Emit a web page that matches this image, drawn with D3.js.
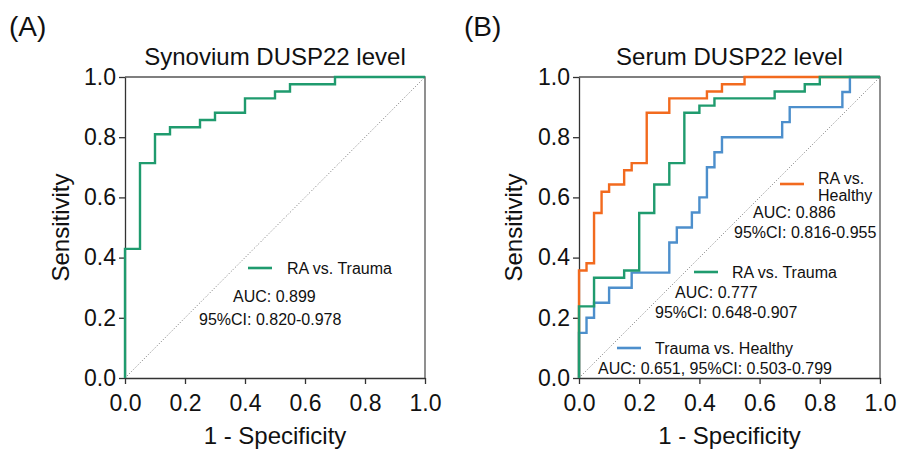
<!DOCTYPE html>
<html><head><meta charset="utf-8">
<script src="https://cdn.jsdelivr.net/npm/d3@7"></script>
<style>
body{margin:0;background:#fff;}
svg{display:block;font-family:"Liberation Sans",Arial,sans-serif;}
</style></head>
<body><svg id="c" width="898" height="450"></svg>
<script>
// ---- data ----
const ticks = [0, 0.2, 0.4, 0.6, 0.8, 1.0];
const tickLabels = ["0.0", "0.2", "0.4", "0.6", "0.8", "1.0"];

// Panel A: Synovium, RA vs. Trauma
const synoFpr = [0, 0, 0.05, 0.10, 0.15, 0.25, 0.30, 0.40, 0.50, 0.55, 0.70, 1.0];
const synoTpr = [0, 0.429, 0.714, 0.810, 0.833, 0.857, 0.881, 0.929, 0.952, 0.976, 1.0, 1.0];

// Panel B: Serum
const raHealthyFpr = [0, 0, 0.025, 0.05, 0.075, 0.10, 0.15, 0.175, 0.225, 0.30, 0.425, 0.475, 0.55, 1.0];
const raHealthyTpr = [0, 0.357, 0.381, 0.548, 0.619, 0.643, 0.690, 0.714, 0.881, 0.929, 0.952, 0.976, 1.0, 1.0];

const raTraumaFpr = [0, 0, 0.05, 0.15, 0.20, 0.25, 0.30, 0.35, 0.40, 0.45, 0.65, 0.75, 0.80, 1.0];
const raTraumaTpr = [0, 0.238, 0.333, 0.357, 0.548, 0.643, 0.714, 0.881, 0.905, 0.929, 0.952, 0.976, 1.0, 1.0];

const traumaHealthyFpr = [0, 0, 0.025, 0.05, 0.10, 0.175, 0.30, 0.325, 0.375, 0.40, 0.425, 0.45, 0.475, 0.675, 0.70, 0.875, 0.90, 1.0];
const traumaHealthyTpr = [0, 0.15, 0.20, 0.25, 0.30, 0.35, 0.45, 0.50, 0.55, 0.60, 0.70, 0.75, 0.80, 0.85, 0.90, 0.95, 1.0, 1.0];

const GREEN = "#1f9b6e", ORANGE = "#f26a1e", BLUE = "#4d8fcc";

const svg = d3.select("#c");

function panel(opts) {
  const x = d3.scaleLinear().domain([0, 1]).range([opts.x0, opts.x1]);
  const y = d3.scaleLinear().domain([0, 1]).range([378, 77]);
  const g = svg.append("g");

  // frame (top/right)
  g.append("path")
    .attr("d", `M${x(0)},${y(1)}H${x(1)}V${y(0)}`)
    .attr("fill", "none").attr("stroke", "#555").attr("stroke-width", 1.3);

  // diagonal
  g.append("line")
    .attr("x1", x(0)).attr("y1", y(0)).attr("x2", x(1)).attr("y2", y(1))
    .attr("stroke", "#666").attr("stroke-width", 0.9).attr("stroke-dasharray", "1,2");

  // axes
  const xa = g.append("g").attr("transform", `translate(0,${y(0)})`)
    .call(d3.axisBottom(x).tickValues(ticks).tickFormat((d, i) => tickLabels[i]).tickSize(6).tickSizeOuter(0));
  const ya = g.append("g").attr("transform", `translate(${x(0)},0)`)
    .call(d3.axisLeft(y).tickValues(ticks).tickFormat((d, i) => tickLabels[i]).tickSize(6).tickSizeOuter(0).tickPadding(3));
  [xa, ya].forEach(a => {
    a.selectAll("path,line").attr("stroke", "#333").attr("stroke-width", 1.3);
    a.selectAll("text").attr("font-size", 23).attr("fill", "#111").attr("font-family", "Liberation Sans, Arial, sans-serif");
  });
  xa.selectAll("text").attr("dy", "0.71em").attr("y", 17);

  const line = d3.line().x(d => x(d[0])).y(d => y(d[1])).curve(d3.curveStepAfter);
  opts.series.forEach(s => {
    const pts = s.fpr.map((v, i) => [v, s.tpr[i]]);
    g.append("path").attr("d", line(pts)).attr("fill", "none")
      .attr("stroke", s.color).attr("stroke-width", 2.4).attr("stroke-linejoin", "miter");
  });

  // labels
  g.append("text").attr("x", opts.labelX).attr("y", 36).attr("font-size", 28).attr("fill", "#111").text(opts.letter);
  g.append("text").attr("x", (opts.x0 + opts.x1) / 2).attr("y", 65).attr("text-anchor", "middle")
    .attr("font-size", 24).attr("fill", "#111").text(opts.title);
  g.append("text").attr("x", (opts.x0 + opts.x1) / 2).attr("y", 444).attr("text-anchor", "middle")
    .attr("font-size", 24).attr("fill", "#111").text("1 - Specificity");
  g.append("text").attr("transform", `translate(${opts.ylabX},${(77 + 378) / 2}) rotate(-90)`)
    .attr("text-anchor", "middle").attr("font-size", 24).attr("fill", "#111").text("Sensitivity");

  opts.legends.forEach(l => {
    g.append("line").attr("x1", l.lx).attr("x2", l.lx + 24).attr("y1", l.ly).attr("y2", l.ly)
      .attr("stroke", l.color).attr("stroke-width", 2.6);
    l.texts.forEach(t => {
      g.append("text").attr("x", t[0]).attr("y", t[1]).attr("font-size", 16).attr("fill", "#111").text(t[2]);
    });
  });
}

panel({
  x0: 125, x1: 425, letter: "(A)", labelX: 9, ylabX: 69, title: "Synovium DUSP22 level",
  series: [{ fpr: synoFpr, tpr: synoTpr, color: GREEN }],
  legends: [{ lx: 248, ly: 268, color: GREEN, texts: [[287, 274, "RA vs. Trauma"], [233, 302, "AUC: 0.899"], [199, 325, "95%CI: 0.820-0.978"]] }]
});

panel({
  x0: 579, x1: 880, letter: "(B)", labelX: 464, ylabX: 522, title: "Serum DUSP22 level",
  series: [
    { fpr: raHealthyFpr, tpr: raHealthyTpr, color: ORANGE },
    { fpr: traumaHealthyFpr, tpr: traumaHealthyTpr, color: BLUE },
    { fpr: raTraumaFpr, tpr: raTraumaTpr, color: GREEN }
  ],
  legends: [
    { lx: 780, ly: 184, color: ORANGE, texts: [[818, 184, "RA vs."], [818, 201, "Healthy"], [753, 218, "AUC: 0.886"], [734, 238, "95%CI: 0.816-0.955"]] },
    { lx: 694, ly: 272, color: GREEN, texts: [[732, 278, "RA vs. Trauma"], [675, 298, "AUC: 0.777"], [655, 318, "95%CI: 0.648-0.907"]] },
    { lx: 617, ly: 348, color: BLUE, texts: [[655, 354, "Trauma vs. Healthy"], [598, 374, "AUC: 0.651, 95%CI: 0.503-0.799"]] }
  ]
});
</script></body></html>
